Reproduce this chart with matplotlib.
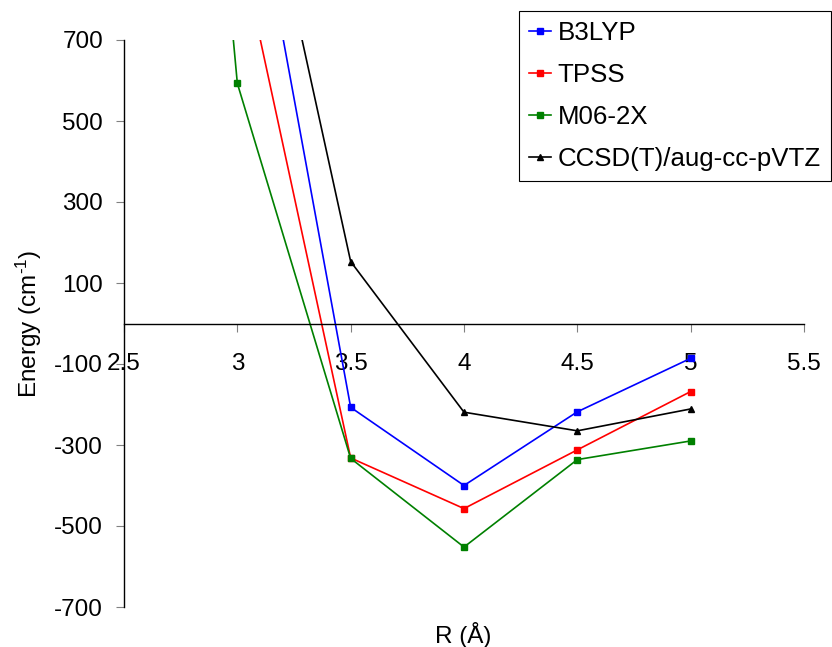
import matplotlib.pyplot as plt

plt.rcParams['font.family'] = ['Liberation Sans', 'DejaVu Sans']
plt.rcParams['mathtext.fontset'] = 'custom'
plt.rcParams['mathtext.rm'] = 'Liberation Sans'
plt.rcParams['mathtext.it'] = 'Liberation Sans'
plt.rcParams['axes.unicode_minus'] = False

# Interaction energy curves (cm^-1) against separation R (Angstrom)
r_b3lyp = [3.0, 3.5, 4.0, 4.5, 5.0]
e_b3lyp = [1320, -207, -400, -218, -86]

r_tpss = [3.0, 3.5, 4.0, 4.5, 5.0]
e_tpss = [963, -332, -457, -312, -168]

r_m06 = [2.5, 3.0, 3.5, 4.0, 4.5, 5.0]
e_m06 = [3640, 593, -333, -552, -336, -290]

r_ccsd = [3.0, 3.5, 4.0, 4.5, 5.0]
e_ccsd = [1430, 153, -219, -265, -211]

x_ticks = [2.5, 3.0, 3.5, 4.0, 4.5, 5.0, 5.5]
x_tick_labels = ['2.5', '3', '3.5', '4', '4.5', '5', '5.5']
y_ticks = [-700, -500, -300, -100, 100, 300, 500, 700]

fig = plt.figure(figsize=(8.32, 6.47), dpi=100)
ax = fig.add_axes([124 / 832, 1 - 607 / 647, 680 / 832, 567 / 647])

ax.plot(r_b3lyp, e_b3lyp, color='#0000FF', lw=1.2, marker='s', ms=4.5, label='B3LYP')
ax.plot(r_tpss, e_tpss, color='#FF0000', lw=1.2, marker='s', ms=4.5, label='TPSS')
ax.plot(r_m06, e_m06, color='#008000', lw=1.2, marker='s', ms=4.5, label='M06-2X')
ax.plot(r_ccsd, e_ccsd, color='black', lw=1.2, marker='^', ms=4.5, label='CCSD(T)/aug-cc-pVTZ')

ax.set_xlim(2.5, 5.5)
ax.set_ylim(-700, 700)

# x axis sits on the zero line, y axis at the left edge
ax.spines['bottom'].set_position(('data', 0))
ax.spines['top'].set_visible(False)
ax.spines['right'].set_visible(False)
ax.spines['left'].set_linewidth(1.0)
ax.spines['bottom'].set_linewidth(1.0)

ax.set_xticks(x_ticks)
ax.set_xticklabels(x_tick_labels)
ax.set_yticks(y_ticks)
ax.tick_params(axis='x', direction='out', length=6, color='#808080', pad=15, labelsize=17.5)
ax.tick_params(axis='y', direction='out', length=6, color='#808080', pad=9, labelsize=17.5)

ax.set_xlabel('R (Å)', fontsize=17.5, va='center')
ax.xaxis.set_label_coords(339 / 680, -28 / 567)
ax.set_ylabel(r'Energy (cm$^{\text{-1}}$)', fontsize=17.5, va='center')
ax.yaxis.set_label_coords(-95 / 680, 0.5)

leg = fig.legend(loc='upper right', bbox_to_anchor=(831 / 832, 1 - 11 / 647),
                 fontsize=18.6, frameon=True, fancybox=False, framealpha=1,
                 edgecolor='black', borderaxespad=0, borderpad=0.4,
                 labelspacing=0.69, handlelength=0.85, handletextpad=0.25)
leg.get_frame().set_linewidth(0.8)

plt.savefig('out.png', dpi=100)
